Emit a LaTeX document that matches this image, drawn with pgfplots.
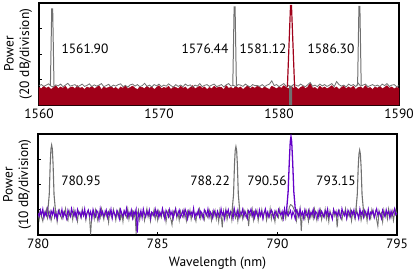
\documentclass[border=0pt]{standalone}
\usepackage{fontspec}
\setmainfont{PT Sans}
\usepackage{pgfplots}
\usepackage{pgfplotstable}
\pgfplotsset{compat=1.18}
\definecolor{cgray}{RGB}{112,112,112}
\definecolor{cred}{RGB}{160,0,25}
\definecolor{cpurple}{RGB}{100,0,200}
\pgfplotstableread[header=false,row sep=\\]{
0.76\\0.80\\0.73\\0.78\\0.83\\0.74\\0.71\\0.79\\0.75\\0.82\\
0.72\\0.78\\0.85\\0.74\\0.77\\0.80\\0.71\\0.76\\0.82\\0.73\\
0.77\\0.83\\0.72\\0.79\\0.74\\0.78\\0.84\\0.72\\0.76\\0.81\\
0.71\\0.78\\0.74\\0.80\\0.83\\0.72\\0.77\\0.70\\0.79\\0.82\\
0.74\\0.80\\0.72\\0.76\\0.85\\0.73\\0.78\\0.71\\0.80\\0.75\\
0.82\\0.72\\0.78\\0.74\\0.83\\0.76\\0.70\\0.80\\0.73\\0.78\\
0.72\\0.82\\0.75\\0.79\\0.70\\0.78\\0.74\\0.84\\0.72\\0.77\\
0.80\\0.73\\0.78\\0.82\\0.72\\0.76\\0.80\\0.71\\0.79\\0.84\\
0.74\\0.77\\0.72\\0.80\\0.78\\0.73\\0.82\\0.75\\0.71\\0.80\\
0.76\\0.76\\0.73\\0.80\\0.72\\0.78\\0.82\\0.95\\0.76\\0.80\\
0.72\\0.78\\0.84\\0.73\\0.77\\0.70\\0.80\\0.78\\0.74\\0.82\\
0.76\\0.72\\0.80\\0.88\\0.74\\0.78\\0.72\\0.82\\0.75\\0.80\\
0.73\\0.78\\0.84\\0.72\\0.92\\0.80\\0.74\\0.78\\0.71\\0.82\\
0.76\\0.80\\0.72\\0.86\\0.74\\0.78\\0.82\\0.72\\0.76\\0.80\\
0.74\\0.78\\0.72\\0.82\\0.76\\0.84\\0.73\\0.78\\0.80\\0.72\\
0.76\\
}\topgray
\pgfplotstableread[header=false,row sep=\\]{
0.69\\0.64\\0.74\\0.66\\0.71\\0.61\\0.69\\0.76\\0.64\\0.71\\
0.66\\0.74\\0.61\\0.69\\0.71\\0.64\\0.76\\0.66\\0.69\\0.61\\
0.71\\0.66\\0.74\\0.64\\0.69\\0.76\\0.61\\0.71\\0.66\\0.69\\
0.74\\0.64\\0.69\\0.61\\0.71\\0.66\\0.76\\0.64\\0.69\\0.74\\
0.66\\0.61\\0.71\\0.69\\0.64\\0.74\\0.66\\0.71\\0.61\\0.69\\
0.76\\0.64\\0.69\\0.66\\0.74\\0.61\\0.71\\0.69\\0.64\\0.74\\
0.66\\0.71\\0.61\\0.69\\0.76\\0.64\\0.69\\0.74\\0.66\\0.71\\
0.61\\0.69\\0.64\\0.74\\0.66\\0.71\\0.69\\0.61\\0.76\\0.66\\
0.69\\0.64\\0.74\\0.66\\0.71\\0.61\\0.69\\0.76\\0.64\\0.71\\
0.66\\0.74\\0.69\\0.64\\0.71\\0.66\\0.61\\0.74\\0.69\\0.64\\
0.71\\0.66\\0.76\\0.69\\0.64\\0.74\\0.66\\0.71\\0.61\\0.69\\
0.74\\0.64\\0.71\\0.86\\0.66\\0.69\\0.61\\0.74\\0.66\\0.71\\
0.64\\0.69\\0.76\\0.66\\0.71\\0.61\\0.69\\0.74\\0.64\\0.71\\
0.66\\0.74\\0.61\\0.69\\0.71\\0.64\\0.76\\0.66\\0.69\\0.61\\
0.71\\0.66\\0.74\\0.64\\0.69\\0.76\\0.66\\0.71\\0.64\\0.69\\
0.66\\
}\topred
\pgfplotstableread[header=false,row sep=\\]{
0.88\\0.62\\0.97\\0.71\\0.55\\0.93\\0.80\\1.02\\0.66\\0.85\\
0.95\\0.58\\0.79\\1.04\\0.70\\0.90\\0.52\\0.86\\0.99\\0.74\\
0.63\\0.92\\0.81\\1.05\\0.68\\0.57\\0.96\\0.77\\0.89\\0.60\\
1.01\\0.73\\0.84\\0.54\\0.94\\0.82\\0.67\\1.03\\0.76\\0.91\\
0.59\\0.87\\0.98\\0.72\\0.02\\0.83\\0.95\\0.64\\1.00\\0.78\\
0.56\\0.90\\0.69\\1.04\\0.81\\0.61\\0.93\\0.75\\0.88\\0.50\\
0.97\\0.79\\0.66\\1.02\\0.85\\0.58\\0.92\\0.73\\0.99\\0.64\\
0.86\\0.53\\0.95\\0.80\\0.70\\1.03\\0.62\\0.89\\0.76\\0.94\\
0.68\\0.91\\0.05\\0.84\\1.00\\0.60\\0.87\\0.74\\0.96\\0.57\\
0.82\\1.05\\0.71\\0.93\\0.55\\0.88\\0.78\\1.01\\0.65\\0.90\\
0.59\\0.97\\0.83\\0.69\\1.02\\0.76\\0.92\\0.52\\0.86\\0.98\\
0.73\\0.63\\0.40\\0.94\\0.81\\1.04\\0.67\\0.89\\0.58\\0.95\\
0.79\\0.70\\1.00\\0.84\\0.56\\0.93\\0.75\\0.99\\0.62\\0.87\\
0.96\\0.72\\0.54\\0.91\\0.82\\1.03\\0.66\\0.88\\0.77\\0.60\\
0.94\\0.80\\0.68\\1.01\\0.85\\0.57\\0.92\\0.74\\0.97\\0.63\\
0.89\\0.53\\0.99\\0.78\\0.30\\0.95\\0.70\\1.02\\0.61\\0.86\\
0.76\\0.93\\0.58\\1.04\\0.83\\0.67\\0.90\\0.55\\0.97\\0.72\\
0.87\\0.64\\1.00\\0.81\\0.69\\0.94\\0.35\\0.88\\0.75\\1.03\\
0.60\\0.92\\0.79\\0.98\\0.56\\0.85\\0.73\\1.01\\0.66\\0.90\\
0.95\\0.58\\0.84\\0.71\\1.05\\0.63\\0.91\\0.77\\0.52\\0.96\\
0.82\\0.69\\1.02\\0.74\\0.59\\0.93\\0.86\\0.65\\0.99\\0.80\\
1.10\\1.20\\1.18\\1.12\\1.00\\0.88\\0.57\\0.95\\0.72\\1.03\\
0.15\\0.90\\0.78\\0.62\\1.00\\0.84\\0.54\\0.97\\0.70\\0.92\\
0.66\\1.04\\0.81\\0.58\\0.94\\0.75\\0.99\\0.61\\0.87\\0.73\\
1.02\\0.64\\0.89\\0.53\\0.96\\0.80\\0.68\\1.01\\0.76\\0.93\\
0.30\\0.85\\0.97\\0.71\\0.59\\0.92\\0.83\\1.05\\0.65\\0.88\\
0.74\\0.99\\0.56\\0.90\\0.79\\0.62\\1.03\\0.86\\0.69\\0.95\\
0.58\\0.82\\1.00\\0.73\\0.91\\0.55\\0.97\\0.77\\0.64\\1.02\\
0.84\\0.70\\0.93\\0.60\\0.35\\0.96\\0.79\\0.88\\0.52\\0.99\\
0.75\\0.91\\0.63\\1.04\\0.81\\0.68\\0.94\\0.57\\0.86\\1.00\\
0.78\\
}\botgray
\pgfplotstableread[header=false,row sep=\\]{
0.86\\0.74\\0.98\\0.80\\1.03\\0.69\\0.91\\0.77\\1.05\\0.83\\
0.66\\0.95\\0.81\\1.00\\0.72\\0.89\\0.64\\0.97\\0.84\\0.76\\
1.02\\0.70\\0.92\\0.79\\0.63\\0.99\\0.85\\0.73\\1.06\\0.88\\
0.75\\0.94\\0.67\\1.01\\0.82\\0.90\\0.71\\0.96\\0.78\\1.04\\
0.68\\0.87\\0.99\\0.76\\0.93\\0.65\\1.02\\0.84\\0.72\\0.97\\
0.89\\0.62\\1.05\\0.80\\0.94\\0.74\\0.86\\1.00\\0.69\\0.91\\
0.78\\1.03\\0.66\\0.95\\0.83\\0.71\\0.98\\0.87\\0.64\\1.01\\
0.85\\0.73\\0.96\\0.81\\1.06\\0.70\\0.90\\0.77\\0.99\\0.67\\
0.92\\0.82\\1.02\\0.10\\0.88\\0.75\\0.97\\0.68\\1.04\\0.84\\
0.71\\0.94\\0.79\\1.00\\0.65\\0.91\\0.86\\0.74\\1.03\\0.80\\
0.96\\0.69\\0.89\\0.77\\1.05\\0.83\\0.63\\0.98\\0.87\\0.72\\
1.01\\0.78\\0.93\\0.66\\0.90\\1.04\\0.75\\0.85\\0.99\\0.70\\
0.82\\0.97\\0.73\\1.02\\0.88\\0.64\\0.95\\0.80\\0.91\\0.76\\
1.06\\0.68\\0.87\\0.79\\0.99\\0.72\\0.94\\0.84\\0.65\\1.00\\
0.89\\0.77\\1.03\\0.71\\0.92\\0.83\\0.67\\0.98\\0.86\\0.74\\
0.95\\0.81\\0.70\\1.04\\0.79\\0.90\\0.63\\0.97\\0.85\\1.01\\
0.73\\0.93\\0.88\\0.66\\1.05\\0.82\\0.76\\0.99\\0.69\\0.91\\
0.84\\1.02\\0.72\\0.94\\0.80\\0.65\\0.96\\0.87\\1.03\\0.75\\
0.90\\0.68\\0.98\\0.83\\0.71\\1.00\\0.78\\0.93\\0.64\\0.88\\
1.04\\0.76\\0.92\\0.70\\0.86\\0.99\\0.81\\0.67\\0.95\\0.84\\
0.73\\1.01\\0.87\\0.79\\0.94\\0.66\\1.05\\0.82\\0.90\\0.75\\
0.85\\0.97\\0.70\\0.92\\0.80\\0.63\\0.98\\0.88\\0.72\\1.03\\
0.78\\0.91\\0.67\\1.00\\0.84\\0.74\\0.96\\0.69\\0.89\\0.82\\
1.02\\0.71\\0.93\\0.86\\0.65\\0.99\\0.77\\0.94\\0.81\\0.70\\
0.96\\0.83\\1.04\\0.72\\0.88\\0.79\\0.62\\1.01\\0.85\\0.92\\
0.74\\0.97\\0.80\\0.68\\1.05\\0.87\\0.76\\0.93\\0.66\\0.99\\
0.89\\0.73\\0.95\\0.82\\1.00\\0.70\\0.91\\0.84\\0.64\\1.03\\
0.79\\0.94\\0.71\\0.98\\0.86\\0.75\\1.02\\0.67\\0.90\\0.83\\
0.97\\0.69\\0.88\\1.04\\0.77\\0.92\\0.81\\0.65\\0.99\\0.85\\
0.72\\1.01\\0.84\\0.93\\0.68\\0.96\\0.78\\0.89\\1.05\\0.80\\
0.88\\
}\botpurple
\tikzset{lbl/.style={font=\fontsize{13.5}{16}\selectfont, anchor=center}}
\pgfplotsset{
  myax/.style={
    scale only axis,
    axis line style={line width=1.2pt},
    tick align=inside,
    xtick pos=bottom, ytick pos=left,
    major tick length=3bp,
    tick style={line width=0.9pt, black},
    ymin=0, ymax=4, ytick={1,2,3}, yticklabels={},
    ticklabel style={font=\fontsize{13.5}{16}\selectfont},
    /pgf/number format/assume math mode=true,
    /pgf/number format/1000 sep={},
    ylabel style={at={(axis description cs:-0.058,0.5)}, anchor=center, align=center, font=\fontsize{13.5}{15.5}\selectfont},
    clip=true,
  },
}
\begin{document}
\begin{tikzpicture}
\path[use as bounding box] (0,0) rectangle (415bp,-270bp);
% top panel
\begin{axis}[myax, at={(39bp,-105bp)}, anchor=south west, width=360bp, height=102bp,
  xmin=1560, xmax=1590, xtick={1560,1570,1580,1590},
  ylabel={Power\\(20 dB/division)}]
\addplot[draw=cred, fill=cred, line width=0.4pt] table[x expr={1560+0.2*\coordindex}, y index=0] {\topred} \closedcycle;
\addplot[draw=cgray, line width=0.8pt] table[x expr={1560+0.2*\coordindex}, y index=0] {\topgray};
\addplot[draw=cgray, line width=1pt] coordinates {(1560.95,0.76)(1561.06,3.77)(1561.14,3.77)(1561.25,0.76)};
\addplot[draw=cgray, line width=1pt] coordinates {(1576.15,0.76)(1576.26,3.85)(1576.34,3.85)(1576.45,0.76)};
\addplot[draw=cgray, line width=1pt] coordinates {(1586.55,0.76)(1586.66,3.87)(1586.74,3.87)(1586.85,0.76)};
\addplot[draw=cred, line width=1.2pt] coordinates {(1580.7,0.7)(1580.96,3.9)(1581.04,3.9)(1581.3,0.7)};
\addplot[draw=none, fill=cgray] coordinates {(1580.85,0)(1580.85,0.76)(1581.1,0.76)(1581.1,0)} \closedcycle;
\node[lbl] at (axis cs:1563.83,2.2) {1561.90};
\node[lbl] at (axis cs:1573.83,2.2) {1576.44};
\node[lbl] at (axis cs:1578.67,2.2) {1581.12};
\node[lbl] at (axis cs:1584.33,2.2) {1586.30};
\end{axis}
% bottom panel
\begin{axis}[myax, at={(38bp,-235bp)}, anchor=south west, width=359bp, height=101bp,
  xmin=780, xmax=795, xtick={780,785,790,795},
  ylabel={Power\\(10 dB/division)},
  xlabel={Wavelength (nm)},
  xlabel style={at={(axis description cs:0.5,-0.275)}, anchor=center, font=\fontsize{13.5}{16}\selectfont}]
\addplot[draw=cgray, line width=0.9pt] table[x expr={780+0.05*\coordindex}, y index=0] {\botgray};
\addplot[draw=cpurple, line width=1pt] table[x expr={780+0.05*\coordindex}, y index=0] {\botpurple};
\addplot[draw=cgray, line width=1.1pt] coordinates {(780.40,0.85)(780.47,1.6)(780.51,2.8)(780.54,3.4)(780.57,3.56)(780.60,3.4)(780.63,2.8)(780.67,1.6)(780.74,0.85)};
\addplot[draw=cgray, line width=1.1pt] coordinates {(788.10,0.85)(788.17,1.6)(788.21,2.8)(788.24,3.35)(788.27,3.5)(788.30,3.35)(788.33,2.8)(788.37,1.6)(788.44,0.85)};
\addplot[draw=cgray, line width=1.1pt] coordinates {(793.27,0.85)(793.34,1.6)(793.38,2.7)(793.41,3.2)(793.44,3.36)(793.47,3.2)(793.50,2.7)(793.54,1.6)(793.61,0.85)};
\addplot[draw=cpurple, line width=1.3pt] coordinates {(790.38,0.9)(790.45,1.7)(790.50,2.9)(790.54,3.7)(790.57,3.9)(790.60,3.7)(790.64,2.9)(790.69,1.7)(790.76,0.9)};
\node[lbl] at (axis cs:781.80,2.13) {780.95};
\node[lbl] at (axis cs:787.19,2.13) {788.22};
\node[lbl] at (axis cs:789.57,2.13) {790.56};
\node[lbl] at (axis cs:792.45,2.13) {793.15};
\end{axis}
\end{tikzpicture}
\end{document}
